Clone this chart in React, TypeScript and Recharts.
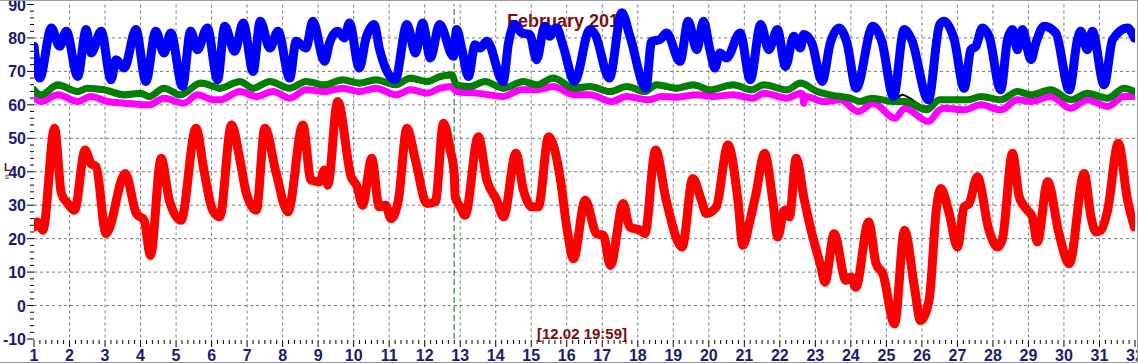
import { LineChart, Line, XAxis, YAxis, CartesianGrid, ReferenceLine } from 'recharts';

// tick labels
const dayLabels = [1, 2, 3, 4, 5, 6, 7, 8, 9, 10, 11, 12, 13, 14, 15, 16, 17, 18, 19, 20, 21, 22, 23, 24, 25, 26, 27, 28, 29, 30, 31, 32];
const valueLabels = [-10, 0, 10, 20, 30, 40, 50, 60, 70, 80, 90];
const gridDays = [2, 3, 4, 5, 6, 7, 8, 9, 10, 11, 12, 13, 14, 15, 16, 17, 18, 19, 20, 21, 22, 23, 24, 25, 26, 27, 28, 29, 30, 31];
const gridValues = [0, 10, 20, 30, 40, 50, 60, 70, 80];

const markerDay = 12.83;
const title = 'February 2016';
const markerLabel = '[12.02 19:59]';

// red series (day of month, value)
const redTime = [1.0, 1.1, 1.25, 1.58, 1.77, 1.95, 2.14, 2.44, 2.6, 2.75, 3.03, 3.57, 3.88, 4.1, 4.28, 4.58, 4.81, 5.14, 5.56, 5.8, 6.03, 6.23, 6.56, 6.8, 6.98, 7.26, 7.5, 7.82, 8.15, 8.57, 8.8, 9.04, 9.18, 9.27, 9.55, 9.93, 10.1, 10.25, 10.51, 10.72, 10.9, 11.05, 11.26, 11.5, 11.74, 12.06, 12.3, 12.53, 12.72, 12.83, 12.86, 13.0, 13.14, 13.51, 13.75, 14.03, 14.22, 14.57, 14.78, 15.02, 15.2, 15.49, 15.81, 16.0, 16.19, 16.52, 16.84, 17.03, 17.23, 17.59, 17.77, 18.06, 18.2, 18.5, 18.8, 19.25, 19.55, 19.79, 19.93, 20.21, 20.54, 20.82, 20.96, 21.15, 21.33, 21.57, 21.8, 21.94, 22.13, 22.27, 22.46, 22.69, 22.88, 23.16, 23.27, 23.53, 23.86, 24.0, 24.14, 24.5, 24.71, 24.9, 25.23, 25.51, 25.79, 25.96, 26.2, 26.42, 26.53, 26.77, 27.0, 27.19, 27.33, 27.56, 27.89, 28.13, 28.27, 28.55, 28.74, 28.97, 29.11, 29.25, 29.54, 29.86, 30.15, 30.57, 30.76, 30.9, 31.04, 31.23, 31.53, 31.79, 31.98];
const redValues = [23.5, 25, 22.5, 53, 33.5, 30.5, 28.5, 46.5, 42.5, 41.5, 21.5, 39.5, 27.5, 25.5, 15, 44, 31.5, 25.5, 53, 39.5, 28.5, 26.5, 54, 43.5, 33.5, 28.5, 53, 39.5, 28, 54, 37.5, 37, 40.5, 36, 61, 38.5, 35.5, 30, 44, 29.5, 30, 26, 31.5, 53, 43.5, 30.5, 31, 54.5, 46.5, 39.5, 32.5, 29.5, 27, 50.5, 37.5, 31.5, 26.5, 45.5, 34.5, 29.5, 29.5, 50.5, 38.5, 23.5, 14, 31.5, 21.5, 21, 12, 30.5, 23.5, 22.5, 21.5, 46.5, 31.5, 17.5, 38, 31.5, 27.5, 29.5, 48, 31.5, 18, 25, 33.5, 45.5, 31.5, 20.5, 28.5, 26.5, 44, 31.5, 22.5, 11.5, 7, 21.5, 7.5, 8.5, 5.5, 25, 12.5, 9.5, -5.5, 22.5, 5.5, -4.5, 1.5, 30, 35, 27.5, 17.5, 29.5, 30.5, 38.5, 22.5, 17.5, 20, 45.5, 32.5, 28.5, 26.5, 19, 37, 21.5, 12.5, 39.5, 26.5, 22, 22.5, 28.5, 48.5, 31.5, 23.5];

// blue series
const blueTime = [1.0, 1.16, 1.49, 1.72, 1.91, 2.23, 2.47, 2.61, 2.89, 3.17, 3.31, 3.54, 3.87, 4.15, 4.43, 4.66, 4.85, 5.18, 5.41, 5.6, 5.88, 6.17, 6.37, 6.65, 6.89, 7.17, 7.37, 7.64, 7.87, 8.2, 8.38, 8.66, 8.85, 9.18, 9.32, 9.55, 9.74, 9.88, 10.16, 10.35, 10.58, 10.72, 11.17, 11.5, 11.74, 11.94, 12.16, 12.42, 12.81, 12.9, 13.05, 13.23, 13.42, 13.56, 13.75, 14.21, 14.36, 14.54, 14.73, 14.96, 15.15, 15.38, 15.52, 15.71, 15.9, 16.22, 16.65, 16.8, 17.2, 17.55, 17.78, 18.23, 18.39, 18.62, 18.81, 19.19, 19.42, 19.66, 19.85, 20.03, 20.17, 20.31, 20.5, 20.88, 21.17, 21.46, 21.69, 21.93, 22.16, 22.39, 22.58, 22.67, 22.9, 23.19, 23.42, 23.67, 23.89, 24.15, 24.62, 24.87, 25.2, 25.5, 25.71, 26.18, 26.5, 26.62, 26.91, 27.19, 27.38, 27.52, 27.7, 27.89, 28.22, 28.41, 28.55, 28.69, 28.83, 29.07, 29.21, 29.44, 29.77, 30.15, 30.38, 30.47, 30.66, 30.8, 31.13, 31.37, 31.79, 31.98];
const blueValues = [77.5, 68, 83, 77.5, 82, 68.5, 82.5, 75.5, 82, 67.5, 73.5, 71, 82.5, 67, 82, 75.5, 81.5, 65.5, 82, 76.5, 83, 67.5, 83.5, 76, 84.5, 70, 85, 77, 82, 68, 79, 77, 85, 73, 78.5, 82, 80, 84.5, 71, 80, 84, 77, 67.5, 84, 75.5, 84.5, 74, 84, 74.5, 82.5, 76.5, 68.5, 78, 77, 79, 67, 78.5, 84, 81.5, 81, 73.5, 83.5, 80.5, 83, 77.5, 67, 82.5, 81, 68, 87.5, 80.5, 65, 79, 79.5, 81.5, 73, 85, 76.5, 85, 76.5, 71, 75.5, 74, 81.5, 67.5, 84, 76.5, 82.5, 71.5, 80.5, 77, 81, 78.5, 67, 78.5, 83, 78.5, 65, 83.5, 79, 62.5, 82.5, 79.5, 61.5, 84, 85, 79.5, 65, 76.5, 77.5, 83, 80.5, 64.5, 79.5, 82.5, 76.5, 82.5, 73.5, 78.5, 83.5, 81.5, 64.5, 79.5, 82, 76.5, 82, 66, 79.5, 83, 80];

// green series
const greenTime = [1.0, 1.2, 1.67, 2.23, 2.5, 2.98, 3.54, 4.0, 4.24, 4.66, 5.13, 5.69, 6.07, 6.23, 6.8, 7.17, 7.64, 8.2, 8.66, 9.18, 9.69, 10.16, 10.63, 11.19, 11.6, 12.07, 12.44, 12.76, 12.9, 13.28, 13.7, 14.21, 14.78, 15.15, 15.62, 16.22, 16.65, 17.22, 17.69, 18.2, 18.53, 19.09, 19.56, 20.03, 20.69, 21.2, 21.55, 22.2, 22.58, 23.05, 23.42, 23.98, 24.26, 24.59, 25.2, 25.52, 26.13, 26.5, 27.28, 27.66, 28.22, 28.69, 29.07, 29.63, 30.19, 30.66, 31.23, 31.69, 32];
const greenValues = [64.5, 63, 66, 64, 65, 64.5, 63, 63.5, 62.5, 65, 63, 66.5, 65.5, 65, 67, 65, 67, 65, 67, 66, 67.5, 66.5, 67.5, 66, 68, 67, 68.5, 69, 66, 65.5, 67, 65, 67, 66, 68, 65, 65.5, 64, 65.5, 64, 66, 65, 66, 64.5, 66, 64.5, 66, 64.5, 66.5, 64, 63, 62, 61, 62, 61, 61, 58.5, 61.5, 61.5, 62.5, 61.5, 64, 63, 64.5, 61.5, 63.5, 62, 65, 64];

// black series
const blackTime = [1.0, 1.2, 1.67, 2.23, 2.5, 2.98, 3.54, 4.0, 4.24, 4.66, 5.13, 5.69, 6.07, 6.23, 6.8, 7.17, 7.64, 8.2, 8.66, 9.18, 9.69, 10.16, 10.63, 11.19, 11.6, 12.07, 12.44, 12.76, 12.9, 13.28, 13.7, 14.21, 14.78, 15.15, 15.62, 16.22, 16.65, 17.22, 17.69, 18.2, 18.53, 19.09, 19.56, 20.03, 20.69, 21.2, 21.55, 22.2, 22.58, 23.05, 23.42, 23.98, 24.26, 24.59, 25.2, 25.45, 25.62, 26.1, 26.3, 26.5, 27.28, 27.66, 28.22, 28.69, 29.07, 29.63, 30.19, 30.66, 31.23, 31.69, 32];
const blackValues = [63.8, 62.3, 65.2, 63.3, 64.3, 63.8, 62.3, 62.8, 61.8, 64.3, 62.3, 65.8, 64.8, 64.3, 66.3, 64.3, 66.3, 64.3, 66.3, 65.3, 66.8, 65.8, 66.8, 65.3, 67.3, 66.3, 67.8, 68.3, 65.3, 64.8, 66.3, 64.3, 66.3, 65.3, 67.3, 64.3, 64.8, 63.3, 64.8, 63.3, 65.3, 64.3, 65.3, 63.8, 65.3, 63.8, 65.3, 63.8, 65.8, 63.3, 62.5, 61.5, 61, 61.8, 61.2, 63, 62.2, 59.5, 60, 61, 61, 62, 61, 63.4, 62.4, 63.9, 61, 62.9, 61.4, 64.4, 63.4];

// magenta series
const magentaTime = [1.0, 1.2, 1.67, 2.23, 2.6, 3.08, 3.54, 4.24, 4.66, 5.22, 5.6, 6.07, 6.23, 6.8, 7.26, 7.73, 8.2, 8.66, 9.18, 9.69, 10.16, 10.63, 11.19, 11.6, 12.07, 12.44, 12.76, 12.9, 13.47, 14.21, 14.73, 15.15, 15.62, 16.22, 16.65, 17.26, 17.69, 18.3, 18.67, 19.09, 19.66, 20.12, 20.69, 21.25, 21.55, 22.2, 22.58, 22.64, 22.67, 22.72, 23.23, 23.7, 24.21, 24.63, 25.24, 25.52, 26.18, 26.5, 26.62, 27.19, 27.66, 28.22, 28.69, 29.07, 29.63, 30.19, 30.66, 31.23, 31.69, 32];
const magentaValues = [62, 61, 63, 61, 62.5, 61, 60.5, 60, 62, 60.5, 63, 61.5, 61.5, 64, 62.5, 64, 62, 64.5, 64, 65, 64, 65, 63, 64.5, 63.5, 65, 65.5, 64, 63.5, 62.5, 64.5, 64.5, 65.5, 63, 63, 61, 62.5, 61.5, 62.5, 62.3, 63, 62.5, 63, 62, 63.5, 62, 63.5, 63.2, 60.5, 62.5, 61, 61.5, 58, 60.5, 56, 59, 55, 58.5, 59, 58.5, 60, 58.5, 61.5, 61, 62.5, 59, 61.5, 59.5, 62.5, 62.5];

const toRows = (time: number[], values: number[]) => time.map((t, i) => ({ t, v: values[i] }));

const redData = toRows(redTime, redValues);
const blueData = toRows(blueTime, blueValues);
const greenData = toRows(greenTime, greenValues);
const blackData = toRows(blackTime, blackValues);
const magentaData = toRows(magentaTime, magentaValues);

// minor ticks: every 4 hours on x, every 2 units on y
const xTicks: number[] = [];
dayLabels.forEach((d, i) => {
    if (i === dayLabels.length - 1) { xTicks.push(d); return; }
    for (let k = 0; k < 6; k++) xTicks.push(d + k / 6);
});
const yTicks: number[] = [];
valueLabels.forEach((v, i) => {
    if (i === valueLabels.length - 1) { yTicks.push(v); return; }
    for (let k = 0; k < 5; k++) yTicks.push(v + k * 2);
});

const AXIS_COLOR = '#1a1a72';
const LABEL_COLOR = '#7a0c0c';
const FONT = '"Liberation Sans", Arial, sans-serif';

const PLOT_LEFT = 34;
const PLOT_BOTTOM = 339;

function XTick({ x, payload }: any) {
    const v = payload.value;
    const major = Math.abs(v - Math.round(v)) < 1e-6;
    return (
        <g>
            <line x1={x} x2={x} y1={PLOT_BOTTOM + 1} y2={PLOT_BOTTOM + (major ? 8 : 5)} stroke="#000" />
            {major && (
                <text x={x} y={361} textAnchor="middle" fill={AXIS_COLOR} fontSize={16} fontWeight="bold" fontFamily={FONT}>
                    {Math.round(v)}
                </text>
            )}
        </g>
    );
}

function YTick({ y, payload }: any) {
    const v = payload.value;
    const major = v % 10 === 0;
    return (
        <g>
            <line x1={PLOT_LEFT - (major ? 7 : 4)} x2={PLOT_LEFT} y1={y} y2={y} stroke="#000" />
            {major && (
                <text x={26} y={y + 6} textAnchor="end" fill={AXIS_COLOR} fontSize={16} fontWeight="bold" fontFamily={FONT}>
                    {v}
                </text>
            )}
        </g>
    );
}

const lineProps = {
    dataKey: 'v',
    type: 'monotone' as const,
    dot: false,
    activeDot: false,
    strokeLinejoin: 'round' as const,
    strokeLinecap: 'round' as const,
    isAnimationActive: false,
};

export default function App() {
    return (
        <div style={{ position: 'absolute', left: 0, top: 0, width: 1138, height: 363, background: '#fff', overflow: 'hidden' }}>
            {/* texts drawn under the lines */}
            <svg width={1138} height={363} style={{ position: 'absolute', left: 0, top: 0 }}>
                <text x={568} y={27} textAnchor="middle" fill={LABEL_COLOR} fontSize={18} fontWeight="bold" fontFamily={FONT}>
                    {title}
                </text>
                <text x={582} y={339} textAnchor="middle" fill={LABEL_COLOR} fontSize={15} fontWeight="bold" fontFamily={FONT}>
                    {markerLabel}
                </text>
                <text x={4} y={171} fill={LABEL_COLOR} fontSize={11} fontWeight="bold" fontFamily={FONT}>L</text>
                <text x={5} y={179} fill={LABEL_COLOR} fontSize={8} fontFamily={FONT}>s</text>
            </svg>
            <div style={{ position: 'absolute', left: 0, top: 0 }}>
                <LineChart width={1138} height={363} margin={{ top: 4.5, right: 3, bottom: 0, left: 0 }}>
                    <CartesianGrid
                        stroke="#7a7a7a"
                        strokeDasharray="3 3"
                        horizontalValues={gridValues}
                        verticalValues={gridDays}
                    />
                    <XAxis
                        type="number"
                        dataKey="t"
                        domain={[1, 32]}
                        ticks={xTicks}
                        interval={0}
                        height={24}
                        axisLine={false}
                        tickLine={false}
                        tick={<XTick />}
                        allowDataOverflow
                    />
                    <YAxis
                        type="number"
                        domain={[-10, 90]}
                        ticks={yTicks}
                        interval={0}
                        width={34}
                        axisLine={false}
                        tickLine={false}
                        tick={<YTick />}
                        allowDataOverflow
                    />
                    <ReferenceLine x={markerDay} stroke="#0a6a0a" strokeDasharray="6 3" />
                    <Line {...lineProps} data={redData} stroke="#ff0000" strokeWidth={9} />
                    <Line {...lineProps} data={magentaData} stroke="#ff00ff" strokeWidth={7} />
                    <Line {...lineProps} data={blackData} stroke="#000000" strokeWidth={2} />
                    <Line {...lineProps} data={greenData} stroke="#008000" strokeWidth={7} />
                    <Line {...lineProps} data={blueData} stroke="#0000ff" strokeWidth={9} />
                </LineChart>
            </div>
            <div style={{ position: 'absolute', left: 0, top: 0, width: 1138, height: 363, boxSizing: 'border-box', borderTop: '1px solid #9a9a9a', borderRight: '1px solid #9a9a9a', borderBottom: '1px solid #9a9a9a', pointerEvents: 'none' }} />
        </div>
    );
}
